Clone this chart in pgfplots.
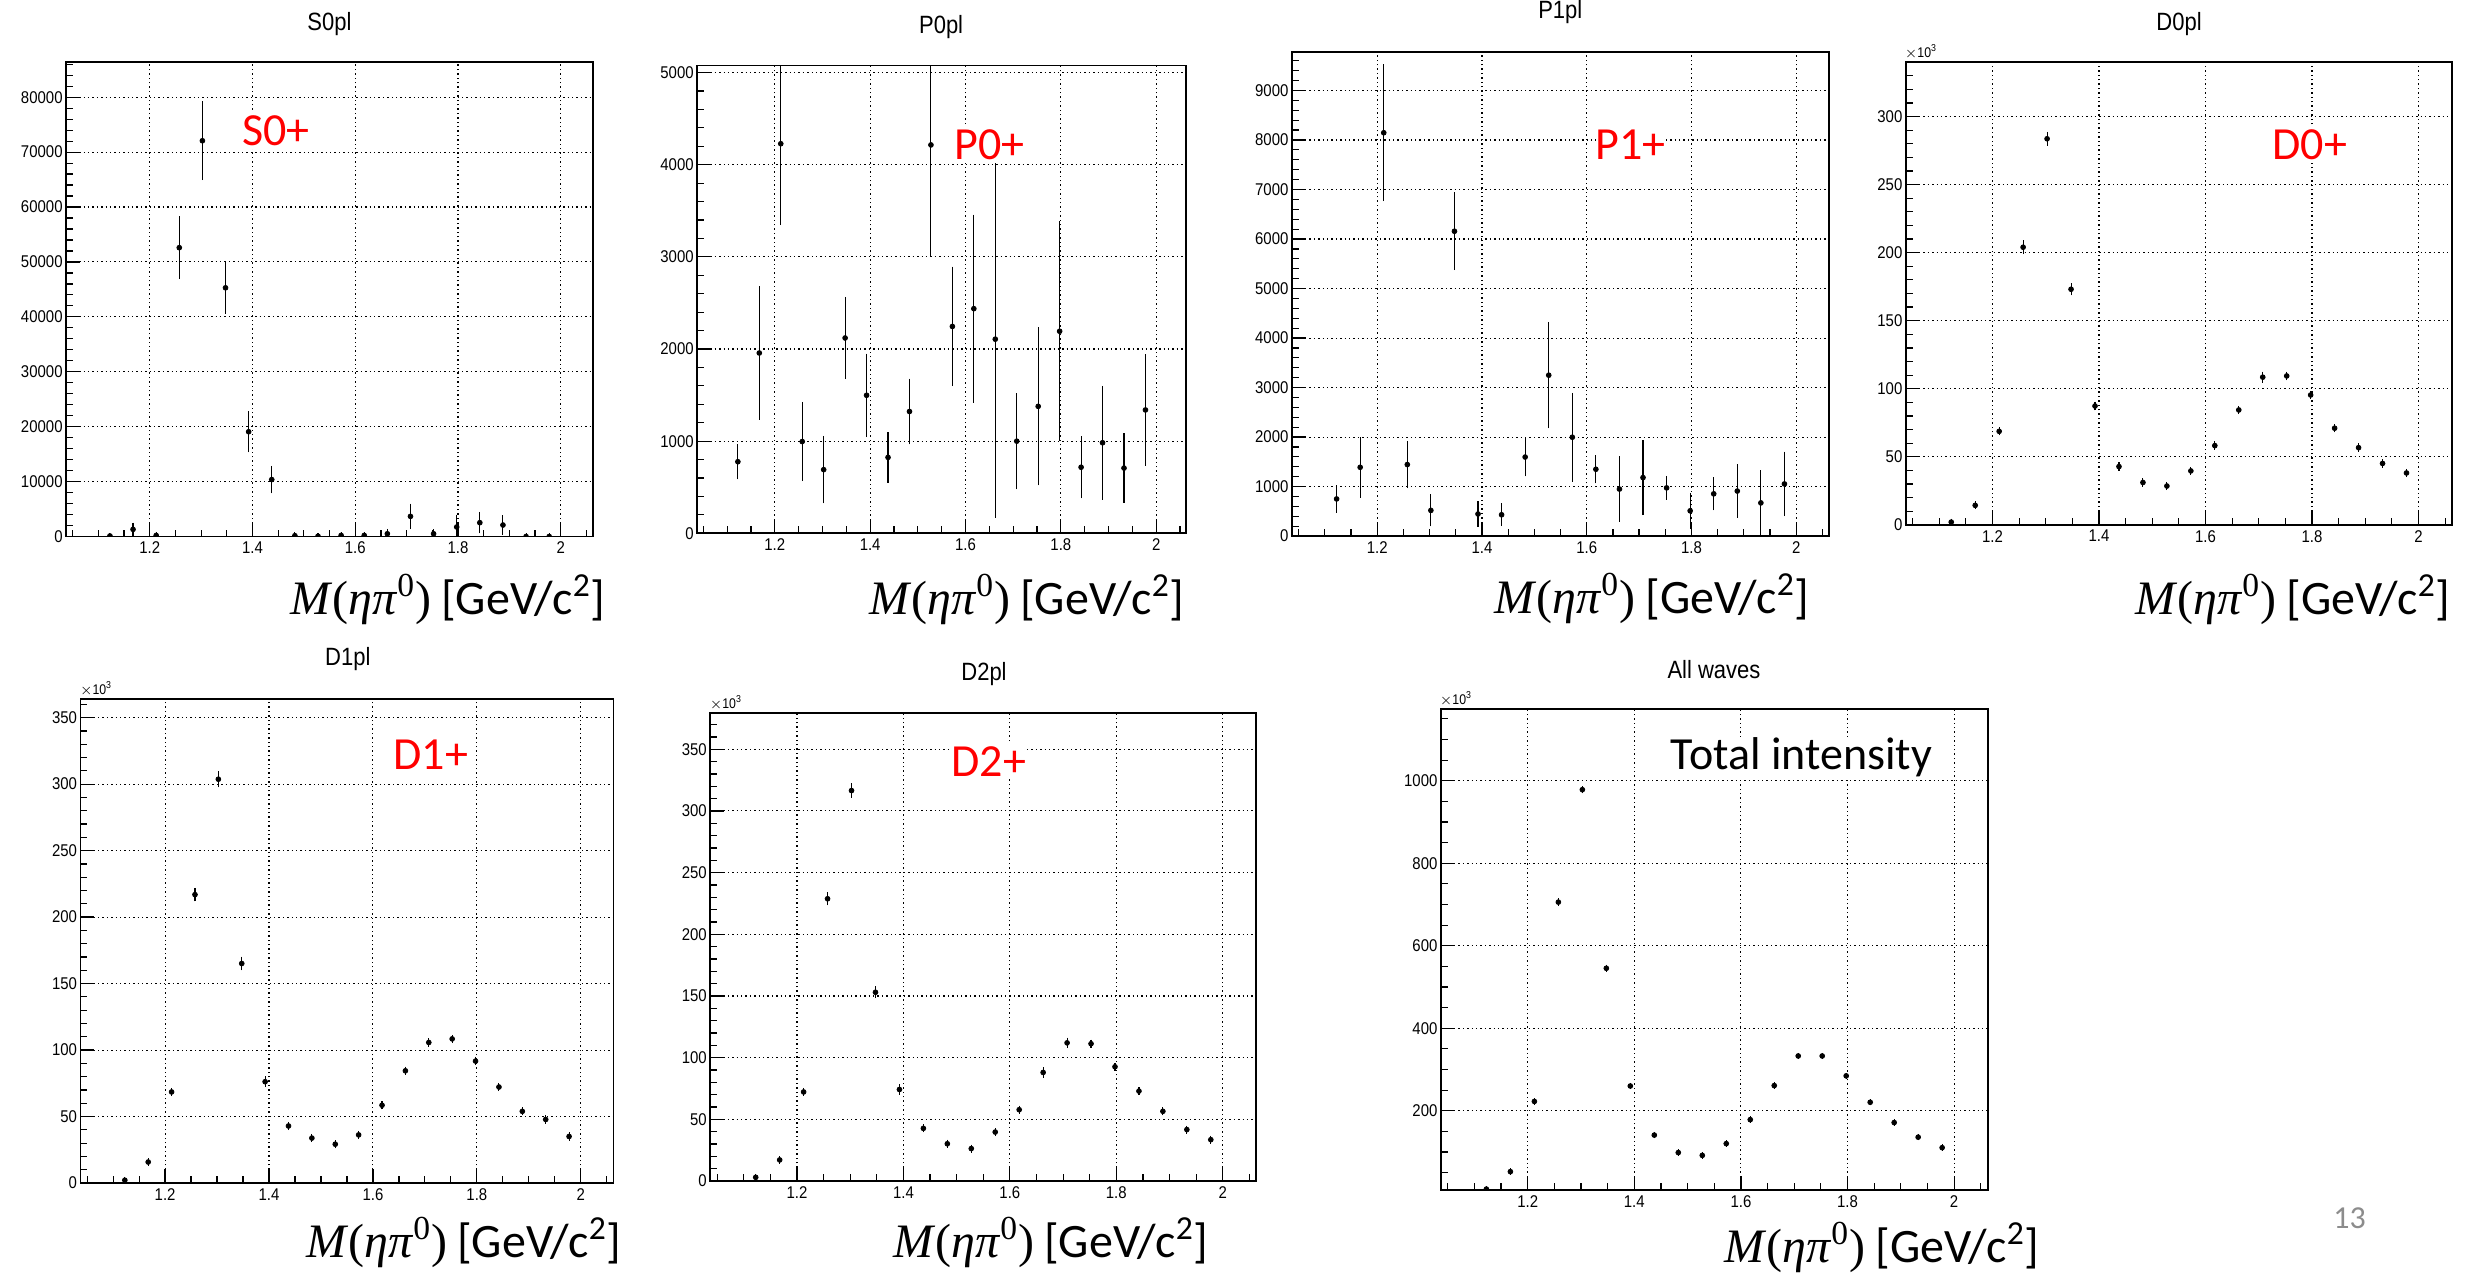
\documentclass[border=0pt]{standalone}
\usepackage{pgfplots}
\pgfplotsset{compat=1.18}
\usepackage{pgfplotstable}
\usepackage{fontspec}
\setmainfont{Liberation Sans}[FakeStretch=0.88]
\newfontfamily\calib{Carlito}
\newfontfamily\serifm{Liberation Serif}

\newcommand{\tickfont}{\fontsize{8.5pt}{10pt}\selectfont}
\newcommand{\titlefont}{\fontsize{12.5pt}{14pt}\selectfont}
\newcommand{\bigfont}{\calib\fontsize{23pt}{27pt}\selectfont}
\newcommand{\xlab}{{\serifm\fontsize{24pt}{28pt}\selectfont\textit{M}(\textit{ηπ}\textsuperscript{0})}\hspace{5pt}{\calib\fontsize{24pt}{28pt}\selectfont[GeV/c\textsuperscript{2}]}}
\newcommand{\expo}{{\fontsize{7pt}{8pt}\selectfont$\times$10\textsuperscript{3}}}

% partial-wave intensities per mass bin: x, intensity, error
\pgfplotstableread{
1.1225 100 60
1.1675 1300 700
1.2125 200 80
1.2575 52600 5200
1.3025 72070 6650
1.3475 45290 4200
1.3925 19080 3240
1.4375 10370 2000
1.4825 150 80
1.5275 50 60
1.5725 200 80
1.6175 200 80
1.6625 500 400
1.7075 3670 1800
1.7525 500 300
1.7975 1730 1750
1.8425 2520 1450
1.8875 2090 1300
1.9325 0 60
1.9775 0 60
}\tSzero
\pgfplotstableread{
1.1225 777 160
1.1675 1957 695
1.2125 4228 854
1.2575 996 400
1.3025 691 337
1.3475 2120 415
1.3925 1498 423
1.4375 824 243
1.4825 1322 326
1.5275 4215 1176
1.5725 2245 618
1.6175 2438 990
1.6625 2107 1908
1.7075 1000 492
1.7525 1378 828
1.7975 2193 1161
1.8425 717 307
1.8875 983 586
1.9325 708 348
1.9775 1339 575
}\tPzero
\pgfplotstableread{
1.1225 751 220
1.1675 1390 555
1.2125 8146 1325
1.2575 1445 420
1.3025 519 268
1.3475 6157 727
1.3925 447 204
1.4375 431 175
1.4825 1597 335
1.5275 3250 1018
1.5725 1997 838
1.6175 1350 228
1.6625 950 603
1.7075 1182 700
1.7525 974 188
1.7975 511 307
1.8425 854 280
1.8875 910 480
1.9325 671 600
1.9775 1054 595
}\tPone
\pgfplotstableread{
1.1225 2.0 0.5
1.1675 14.3 0.8
1.2125 68.7 1
1.2575 204.0 3
1.3025 283.7 3
1.3475 173.1 2.5
1.3925 87.3 1.2
1.4375 42.8 1
1.4825 31.1 1
1.5275 28.5 1
1.5725 39.6 1
1.6175 58.2 1
1.6625 84.4 1
1.7075 108.5 2
1.7525 109.4 1.2
1.7975 95.4 1
1.8425 71.0 1
1.8875 56.7 1
1.9325 45.1 1
1.9775 38.1 1
}\tDzero
\pgfplotstableread{
1.1225 2.1 0.5
1.1675 15.8 0.8
1.2125 68.5 1
1.2575 216.9 3
1.3025 303.7 4
1.3475 165.1 3
1.3925 76.2 2
1.4375 42.9 1
1.4825 33.8 1
1.5275 29.2 1
1.5725 36.2 1
1.6175 58.5 1
1.6625 84.4 1
1.7075 105.7 1
1.7525 108.4 1
1.7975 91.7 1
1.8425 72.2 1
1.8875 53.9 1
1.9325 47.8 1
1.9775 35.0 1
}\tDone
\pgfplotstableread{
1.1225 3.0 0.5
1.1675 17.1 0.8
1.2125 72.2 1
1.2575 228.8 3
1.3025 316.5 3.5
1.3475 153.0 2.5
1.3925 74.2 2
1.4375 42.7 1
1.4825 30.2 1
1.5275 26.3 1
1.5725 39.7 1
1.6175 57.8 1
1.6625 88.0 2
1.7075 112.0 2
1.7525 111.3 1
1.7975 92.6 1
1.8425 72.9 1
1.8875 56.5 1
1.9325 41.7 1
1.9775 33.5 1
}\tDtwo
\pgfplotstableread{
1.1225 10.1 1
1.1675 52.4 1
1.2125 222.6 1
1.2575 705.8 2
1.3025 978.4 2
1.3475 545.4 2
1.3925 260.0 1
1.4375 141.0 1
1.4825 98.6 1
1.5275 91.8 1
1.5725 120.3 1
1.6175 178.4 1
1.6625 261.0 1
1.7075 332.8 1
1.7525 332.8 1
1.7975 284.6 1
1.8425 220.6 1
1.8875 171.4 1
1.9325 136.0 1
1.9775 110.5 1
}\tAll

\pgfplotsset{
  rootax/.style={
    scale only axis, anchor=south west,
    xmin=1.037, xmax=2.063,
    xtick={1.2,1.4,1.6,1.8,2},
    xticklabels={1.2,1.4,1.6,1.8,2},
    minor xtick={1.05,1.1,...,2.06},
    tick align=inside, tick pos=left,
    major tick length=7pt, minor tick length=3.5pt,
    grid=major,
    major grid style={black, line width=0.55pt, dash pattern=on 0.7pt off 1.5pt},
    axis line style={black, line width=0.9pt},
    every tick/.style={black, line width=0.6pt},
    tick label style={font=\tickfont},
    yticklabel style={inner sep=1.5pt},
    xticklabel style={inner sep=2.5pt},
    /pgf/number format/assume math mode=true,
    /pgf/number format/1000 sep={},
    scaled y ticks=false,
    clip marker paths=true,
  },
  pts/.style={
    only marks, mark=*, mark size=1.2pt, black,
    mark options={fill=black, draw=black},
    error bars/.cd, y dir=both, y explicit,
    error bar style={line width=0.55pt, black},
    error mark options={line width=0.55pt, mark size=1.4pt, black},
  },
}

\begin{document}
\begin{tikzpicture}
\begin{scope}[x=0.5pt,y=0.5pt]
  \path[use as bounding box] (0,0) rectangle (2483,1275);
\end{scope}

% S0+
\begin{axis}[rootax, at={(33.0pt,369.4pt)}, width=263.55pt, height=237.45pt,
  ymin=0, ymax=86480, ytick={0,10000,...,80000}, minor ytick={0,2000,...,86000}]
  \addplot[pts] table[x index=0, y index=1, y error index=2] {\tSzero};
\end{axis}

% P0+
\begin{axis}[rootax, at={(348.55pt,371.0pt)}, width=244.55pt, height=233.9pt,
  ymin=0, ymax=5077, ytick={0,1000,...,5000}, minor ytick={0,200,...,5000}]
  \addplot[pts] table[x index=0, y index=1, y error index=2] {\tPzero};
\end{axis}

% P1+
\begin{axis}[rootax, at={(645.9pt,369.6pt)}, width=268.7pt, height=242.2pt,
  ymin=0, ymax=9783, ytick={0,1000,...,9000}, minor ytick={0,200,...,9600}]
  \addplot[pts] table[x index=0, y index=1, y error index=2] {\tPone};
\end{axis}

% D0+
\begin{axis}[rootax, at={(952.85pt,375.25pt)}, width=273.15pt, height=231.6pt,
  ymin=0, ymax=340.4, ytick={0,50,...,300}, minor ytick={0,10,...,340}]
  \addplot[pts] table[x index=0, y index=1, y error index=2] {\tDzero};
\end{axis}

% D1+
\begin{axis}[rootax, at={(40.2pt,46.15pt)}, width=266.55pt, height=242.0pt,
  ymin=0, ymax=364, ytick={0,50,...,350}, minor ytick={0,10,...,360}]
  \addplot[pts] table[x index=0, y index=1, y error index=2] {\tDone};
\end{axis}

% D2+
\begin{axis}[rootax, at={(355.1pt,47.15pt)}, width=273.05pt, height=233.9pt,
  ymin=0, ymax=379.2, ytick={0,50,...,350}, minor ytick={0,10,...,370}]
  \addplot[pts] table[x index=0, y index=1, y error index=2] {\tDtwo};
\end{axis}

% sum over all waves
\begin{axis}[rootax, at={(720.4pt,42.5pt)}, width=273.45pt, height=240.5pt,
  ymin=7.1, ymax=1173.2, ytick={200,400,...,1000}, minor ytick={50,100,...,1150}]
  \addplot[pts] table[x index=0, y index=1, y error index=2] {\tAll};
\end{axis}

\begin{scope}[x=0.5pt,y=0.5pt, every node/.style={inner sep=0pt}]
  % histogram titles
  \node[anchor=base, font=\titlefont] at (329.4,{1275-29.7}) {S0pl};
  \node[anchor=base, font=\titlefont] at (941.1,{1275-33.6}) {P0pl};
  \node[anchor=base, font=\titlefont] at (1560.3,{1275-17.8}) {P1pl};
  \node[anchor=base, font=\titlefont] at (2179,{1275-29.7}) {D0pl};
  \node[anchor=base, font=\titlefont] at (347.8,{1275-665.1}) {D1pl};
  \node[anchor=base, font=\titlefont] at (984,{1275-680.5}) {D2pl};
  \node[anchor=base, font=\titlefont] at (1714,{1275-677.7}) {All waves};
  % axis exponents
  \node[anchor=west] at (1904.5,{1275-51.4}) {\expo};
  \node[anchor=west] at (79.6,{1275-688.6}) {\expo};
  \node[anchor=west] at (709.4,{1275-702.8}) {\expo};
  \node[anchor=west] at (1439.5,{1275-698.7}) {\expo};
  % wave names, on opaque boxes
  \begin{scope}[every node/.append style={fill=white, inner xsep=0pt, inner ysep=1.5pt}]
  \node[anchor=base west, text=red, font=\bigfont] at (242,{1275-145.5}) {S0+};
  \node[anchor=base west, text=red, font=\bigfont] at (954.1,{1275-159.4}) {P0+};
  \node[anchor=base west, text=red, font=\bigfont] at (1595.1,{1275-159.4}) {P1+};
  \node[anchor=base west, text=red, font=\bigfont] at (2272,{1275-159.4}) {D0+};
  \node[anchor=base west, text=red, font=\bigfont] at (393.1,{1275-768.8}) {D1+};
  \node[anchor=base west, text=red, font=\bigfont] at (951,{1275-775.7}) {D2+};
  \node[anchor=base west, text=black, font=\bigfont, inner ysep=0pt] at (1670.3,{1275-768.8}) {Total intensity};
  \end{scope}
  % mass axis labels
  \node[anchor=base east] at (606,{1275-614}) {\xlab};
  \node[anchor=base east] at (1185,{1275-614}) {\xlab};
  \node[anchor=base east] at (1810,{1275-613}) {\xlab};
  \node[anchor=base east] at (2451,{1275-614}) {\xlab};
  \node[anchor=base east] at (622,{1275-1257}) {\xlab};
  \node[anchor=base east] at (1209,{1275-1257}) {\xlab};
  \node[anchor=base east] at (2040,{1275-1262}) {\xlab};
  % slide number
  \node[anchor=base west, text=black!45, font=\calib\fontsize{16pt}{18pt}\selectfont] at (2333,{1275-1228}) {13};
\end{scope}
\end{tikzpicture}
\end{document}
